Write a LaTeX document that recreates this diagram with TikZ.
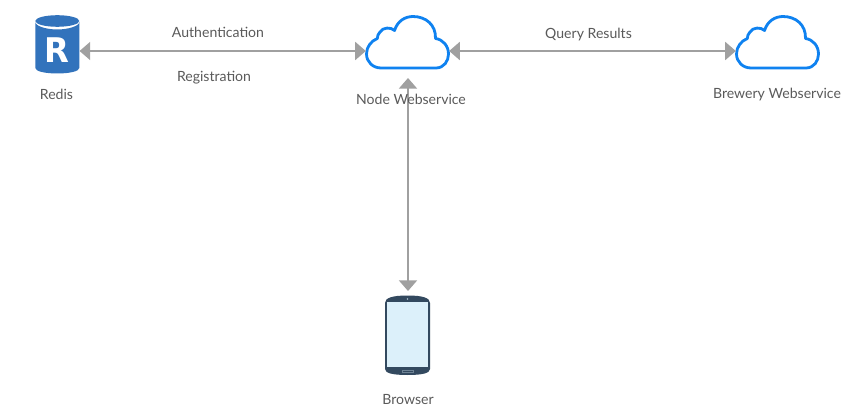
\documentclass[tikz,border=0pt]{standalone}
\usepackage{fontspec}
\setmainfont{Lato}
\newfontfamily\rfont{DejaVu Sans}
\usetikzlibrary{arrows.meta}
\definecolor{cloudblue}{HTML}{0F82F0}
\definecolor{linegray}{HTML}{A0A0A0}
\definecolor{textgray}{HTML}{5A5A5A}
\definecolor{redisblue}{HTML}{3273BC}
\definecolor{phonedark}{HTML}{33495F}
\definecolor{phonescreen}{HTML}{DCF0FA}
\tikzset{
  x=0.75pt,y=-0.75pt,
  label text/.style={text=textgray,font=\fontsize{10.55}{12}\selectfont,inner sep=0pt},
  anchorbox/.style={inner sep=0pt,outer sep=0pt,minimum width=#1},
  link/.style={draw=linegray,line width=1.5pt,{Triangle[length=8pt,width=13.5pt]}-{Triangle[length=8pt,width=13.5pt]}},
  cloudline/.style={draw=cloudblue,line width=2.1pt,line join=round,fill=white}
}
\newcommand{\cloudicon}[1]{%
  \begin{scope}[shift={(#1,0)}]
  \path[cloudline] (381,68) -- (436,68)
    .. controls (444,68) and (448.5,61) .. (448.5,54)
    .. controls (448.5,46) and (443,39.5) .. (435.5,38.5)
    .. controls (436,25) and (426,16.5) .. (413,16.5)
    .. controls (405,16.5) and (397.5,21) .. (394.5,30.5)
    .. controls (391,27) and (383,27) .. (380,32)
    .. controls (378,34) and (377.5,36) .. (377.3,38.5)
    .. controls (371,41) and (366.5,47) .. (366.5,54)
    .. controls (366.5,62) and (373,68) .. (381,68) -- cycle;
  \end{scope}}
\begin{document}
\begin{tikzpicture}
\useasboundingbox (0,0) rectangle (849,420);
\fill[white] (0,0) rectangle (849,420);
% redis icon
\fill[redisblue] (35.3,22) -- (35.3,68) .. controls (35.3,71.5) and (46,73.5) .. (57.3,73.5)
  .. controls (68.5,73.5) and (79.3,71.5) .. (79.3,68) -- (79.3,22)
  .. controls (79.3,26) and (68.5,29.5) .. (57.3,29.5)
  .. controls (46,29.5) and (35.3,26) .. (35.3,22) -- cycle;
\fill[redisblue] (57.3,21) ellipse [x radius=22, y radius=5.8];
\node[inner sep=0pt,text=white,xscale=0.95,font=\rfont\fontsize{25.5}{26}\bfseries\selectfont] at (57.3,50) {R};
\node[anchorbox=33.4pt,minimum height=36pt] (redis) at (57.3,51) {};
% clouds
\cloudicon{0}
\cloudicon{370}
\node[anchorbox=62.5pt,minimum height=30pt] (nodeweb) at (407.5,51) {};
\node[anchorbox=62.5pt,minimum height=30pt] (brewery) at (777.5,51) {};
\coordinate (nodebottom) at (408,78);
% phone
\fill[phonedark] (385,303) .. controls (385,298) and (392,295.5) .. (407.5,295.5)
  .. controls (423,295.5) and (430,298) .. (430,303) -- (430,369)
  .. controls (430,373) and (423,375) .. (407.5,375)
  .. controls (392,375) and (385,373) .. (385,369) -- cycle;
\fill[phonescreen] (387.3,301.8) rectangle (427.7,366.8);
\fill[phonescreen!70!phonedark] (407.5,299) circle (0.9);
\draw[phonescreen!35!phonedark,line width=0.6pt] (402,370.5) rectangle (413,372.5);
\node[anchorbox=33.75pt,minimum height=60pt,anchor=north] (browser) at (408,291) {};
% connectors
\draw[link] (redis.east) -- (nodeweb.west);
\draw[link] (nodeweb.east) -- (brewery.west);
\draw[link] (nodebottom) -- (browser.north);
% labels
\node[label text] (lredis) at (56.5,94.5) {Redis};
\node[label text] (lnode) at (411,99.5) {Node Webservice};
\node[label text] (lbrew) at (777,95) {Brewery Webservice};
\node[label text] (lbrowser) at (408,400) {Browser};
\node[label text] (lauth) at (218,32.5) {Authentication};
\node[label text] (lreg) at (214,78) {Registration};
\node[label text] (lquery) at (588.5,35) {Query Results};
\end{tikzpicture}
\end{document}
